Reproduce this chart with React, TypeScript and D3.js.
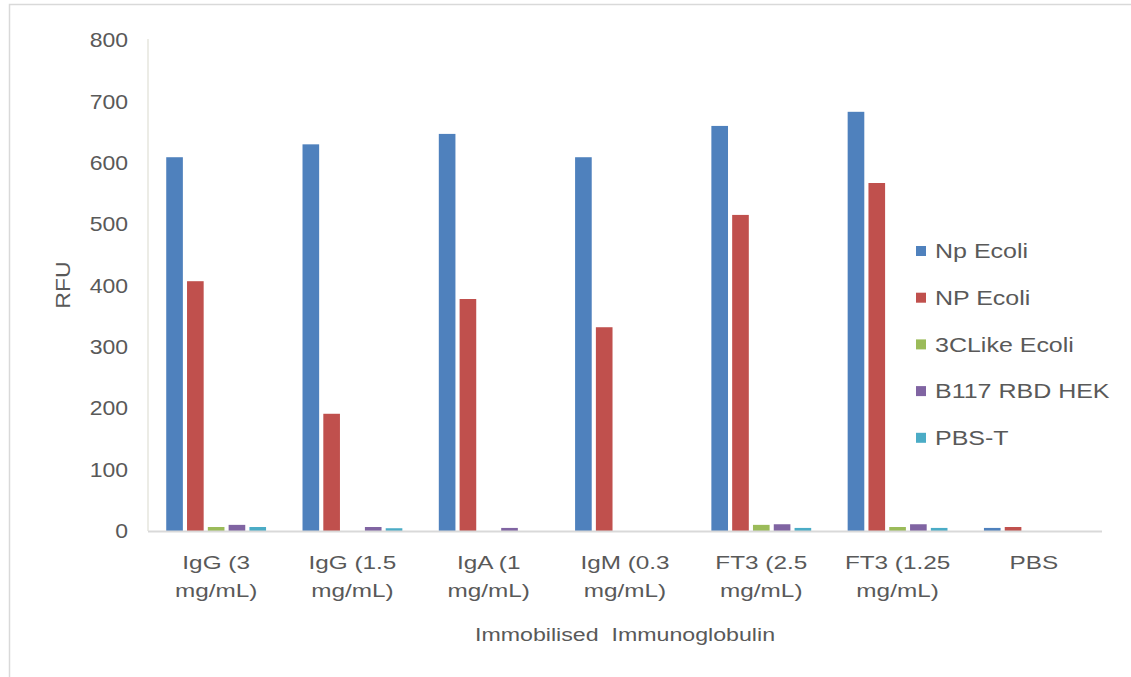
import React from "react";
import * as d3 from "d3";

const categories = [
  "IgG (3 mg/mL)",
  "IgG (1.5 mg/mL)",
  "IgA (1 mg/mL)",
  "IgM (0.3 mg/mL)",
  "FT3 (2.5 mg/mL)",
  "FT3 (1.25 mg/mL)",
  "PBS",
];
const seriesNames = ["Np Ecoli", "NP Ecoli", "3CLike Ecoli", "B117 RBD HEK", "PBS-T"];
const npEcoliBlue = [609, 630, 647, 609, 660, 683, 5];
const npEcoliRed = [407, 191, 378, 332, 515, 567, 6.5];
const clikeEcoli = [6.5, 0, 0, 0, 10, 6.5, 0];
const b117Hek = [10, 6.5, 5, 0, 11, 11, 0];
const pbsT = [6.5, 4.5, 0, 0, 5, 5, 0];
const seriesValues = [npEcoliBlue, npEcoliRed, clikeEcoli, b117Hek, pbsT];
const colors = ["#4F81BD", "#C0504D", "#9BBB59", "#8064A2", "#4BACC6"];
const yTicks = [0, 100, 200, 300, 400, 500, 600, 700, 800];
const yTitle = "RFU";
const xTitle = "Immobilised  Immunoglobulin";

const W = 1131;
const H = 677;
const plot = { left: 148, right: 1102, top: 40, bottom: 531 };
const textColor = "#595959";
const font = "'Liberation Sans', Arial, sans-serif";

function SText(props: {
  x: number;
  y: number;
  sx?: number;
  size: number;
  anchor?: string;
  rotate?: number;
  dy?: string;
  children: React.ReactNode;
}) {
  const { x, y, sx = 1, size, anchor = "start", rotate = 0, dy, children } = props;
  return (
    <text
      transform={`translate(${x},${y}) rotate(${rotate}) scale(${sx},1)`}
      textAnchor={anchor}
      fontSize={size}
      fontFamily={font}
      fill={textColor}
      dy={dy}
    >
      {children}
    </text>
  );
}

export default function App() {
  const y = d3.scaleLinear().domain([0, 800]).range([plot.bottom, plot.top]);
  const x0 = d3
    .scaleBand<string>()
    .domain(categories)
    .range([plot.left, plot.right])
    .paddingInner(0.237)
    .paddingOuter(0.1185);
  const x1 = d3
    .scaleBand<string>()
    .domain(seriesNames)
    .range([0, x0.bandwidth()])
    .paddingInner(0.2)
    .paddingOuter(0.1);

  return (
    <svg
      width={W}
      height={H}
      style={{ position: "absolute", left: 0, top: 0, background: "#fff" }}
    >
      <rect x={9.5} y={4.5} width={1140} height={700} fill="#fff" stroke="#d9d9d9" strokeWidth={1.5} />

      {/* y axis line */}
      <line x1={plot.left} x2={plot.left} y1={plot.top - 1} y2={plot.bottom} stroke="#e6e6de" strokeWidth={1.5} />

      {/* y tick labels */}
      {yTicks.map((t) => (
        <SText key={t} x={128} y={y(t)} sx={1.15} size={20} anchor="end" dy="0.36em">
          {t}
        </SText>
      ))}

      {/* bars */}
      {categories.map((c, ci) => (
        <g key={c} transform={`translate(${x0(c)},0)`}>
          {seriesNames.map((s, si) => {
            const v = seriesValues[si][ci];
            if (!v) return null;
            return (
              <rect
                key={s}
                x={x1(s)}
                y={y(v)}
                width={x1.bandwidth()}
                height={plot.bottom - y(v)}
                fill={colors[si]}
              />
            );
          })}
        </g>
      ))}

      {/* x axis line */}
      <line x1={plot.left} x2={plot.right} y1={plot.bottom + 0.5} y2={plot.bottom + 0.5} stroke="#d9d9d9" strokeWidth={2} />

      {/* category labels */}
      {categories.map((c) => {
        const lines = c.split(/ (?=mg)/);
        const cx = (x0(c) as number) + x0.bandwidth() / 2;
        return (
          <g key={c}>
            {lines.map((ln, li) => (
              <SText key={li} x={cx} y={569 + li * 28} sx={1.28} size={19} anchor="middle">
                {ln}
              </SText>
            ))}
          </g>
        );
      })}

      {/* axis titles */}
      <SText x={(plot.left + plot.right) / 2} y={641} sx={1.22} size={19} anchor="middle">
        <tspan style={{ whiteSpace: "pre" }}>{xTitle}</tspan>
      </SText>
      <SText x={70} y={285} sx={1.15} size={20} anchor="middle" rotate={-90}>
        {yTitle}
      </SText>

      {/* legend */}
      {seriesNames.map((s, i) => {
        const ly = 251 + i * 46.7;
        return (
          <g key={s}>
            <rect x={916} y={ly - 5} width={10} height={10} fill={colors[i]} />
            <SText x={935} y={ly} sx={1.25} size={20} dy="0.36em">
              {s}
            </SText>
          </g>
        );
      })}
    </svg>
  );
}
